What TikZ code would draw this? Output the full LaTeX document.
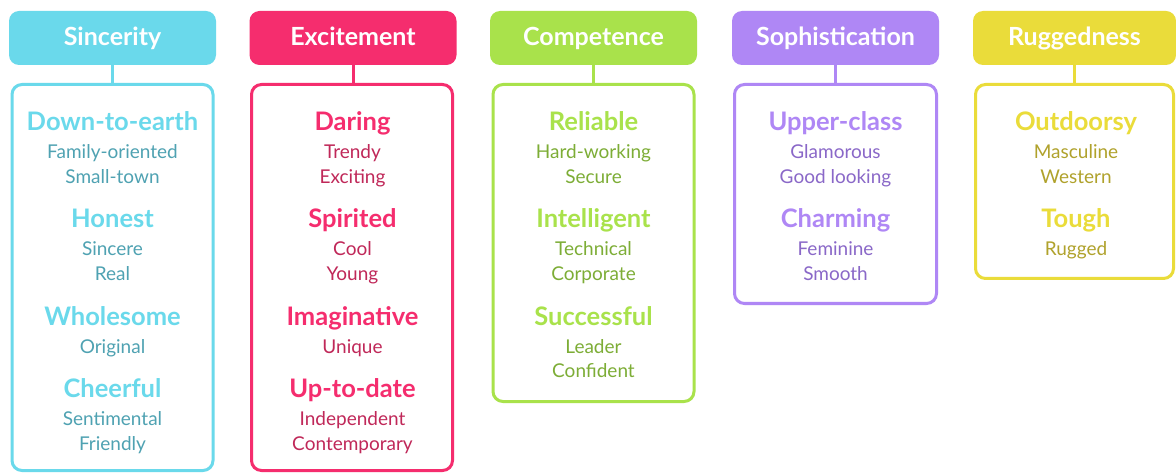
\documentclass[tikz,border=0pt]{standalone}
\usepackage{fontspec}
\setmainfont{Lato}
\definecolor{caA}{HTML}{6AD9EB}\definecolor{caB}{HTML}{4FA2B2}
\definecolor{cbA}{HTML}{F52D6E}\definecolor{cbB}{HTML}{C02859}
\definecolor{ccA}{HTML}{A9E24B}\definecolor{ccB}{HTML}{7DAD36}
\definecolor{cdA}{HTML}{AF87F5}\definecolor{cdB}{HTML}{8A68C8}
\definecolor{ceA}{HTML}{EADC3A}\definecolor{ceB}{HTML}{B0A22C}
\tikzset{
  hdr/.style={rectangle,rounded corners=10pt,inner sep=0pt,outer sep=0pt,minimum height=54pt,
     text height=20pt,text depth=4pt,
     text=white,font=\fontsize{25}{28}\selectfont\bfseries,anchor=north},
  bx/.style={rectangle,rounded corners=10pt,inner sep=0pt,outer sep=0pt,line width=3pt,fill=white,anchor=north},
  conn/.style={line width=3pt},
  ttl/.style={inner sep=0pt,anchor=base,font=\fontsize{25.5}{28}\selectfont\bfseries},
  sub/.style={inner sep=0pt,anchor=base,font=\fontsize{19}{22}\selectfont},
}
\begin{document}
\begin{tikzpicture}[x=1pt,y=-1pt]
\useasboundingbox[fill=white] (0,0) rectangle (1176,473);
% ---------- Sincerity
\node[hdr,fill=caA,minimum width=207pt] (h1) at (112.5,11) {Sincerity};
\node[bx,draw=caA,minimum width=201pt,minimum height=386pt] (b1) at (112.5,84.5) {};
\draw[conn,caA] (h1.south) -- (b1.north);
\node[ttl,text=caA] (t11) at (112.5,131) {Down-to-earth};
\node[sub,text=caB] (s111) at (112.5,159) {Family-oriented};
\node[sub,text=caB] (s112) at (112.5,183.5) {Small-town};
\node[ttl,text=caA] (t12) at (112.5,228) {Honest};
\node[sub,text=caB] (s121) at (112.5,256) {Sincere};
\node[sub,text=caB] (s122) at (112.5,280.5) {Real};
\node[ttl,text=caA] (t13) at (112.5,325) {Wholesome};
\node[sub,text=caB] (s131) at (112.5,353) {Original};
\node[ttl,text=caA] (t14) at (112.5,397.5) {Cheerful};
\node[sub,text=caB] (s141) at (112.5,425.5) {Sentimental};
\node[sub,text=caB] (s142) at (112.5,450) {Friendly};
% ---------- Excitement
\node[hdr,fill=cbA,minimum width=207pt] (h2) at (353,11) {Excitement};
\node[bx,draw=cbA,minimum width=201pt,minimum height=386pt] (b2) at (352,84.5) {};
\draw[conn,cbA] (h2.south) -- (h2.south |- b2.north);
\node[ttl,text=cbA] (t21) at (352.5,131) {Daring};
\node[sub,text=cbB] (s211) at (352.5,159) {Trendy};
\node[sub,text=cbB] (s212) at (352.5,183.5) {Exciting};
\node[ttl,text=cbA] (t22) at (352.5,228) {Spirited};
\node[sub,text=cbB] (s221) at (352.5,256) {Cool};
\node[sub,text=cbB] (s222) at (352.5,280.5) {Young};
\node[ttl,text=cbA] (t23) at (352.5,325) {Imaginative};
\node[sub,text=cbB] (s231) at (352.5,353) {Unique};
\node[ttl,text=cbA] (t24) at (352.5,397.5) {Up-to-date};
\node[sub,text=cbB] (s241) at (352.5,425.5) {Independent};
\node[sub,text=cbB] (s242) at (352.5,450) {Contemporary};
% ---------- Competence
\node[hdr,fill=ccA,minimum width=207pt] (h3) at (593.5,11) {Competence};
\node[bx,draw=ccA,minimum width=201pt,minimum height=317pt] (b3) at (593.5,84.5) {};
\draw[conn,ccA] (h3.south) -- (b3.north);
\node[ttl,text=ccA] (t31) at (593.5,131) {Reliable};
\node[sub,text=ccB] (s311) at (593.5,159) {Hard-working};
\node[sub,text=ccB] (s312) at (593.5,183.5) {Secure};
\node[ttl,text=ccA] (t32) at (593.5,228) {Intelligent};
\node[sub,text=ccB] (s321) at (593.5,256) {Technical};
\node[sub,text=ccB] (s322) at (593.5,280.5) {Corporate};
\node[ttl,text=ccA] (t33) at (593.5,325) {Successful};
\node[sub,text=ccB] (s331) at (593.5,353) {Leader};
\node[sub,text=ccB] (s332) at (593.5,377.5) {Confident};
% ---------- Sophistication
\node[hdr,fill=cdA,minimum width=207pt] (h4) at (835.5,11) {Sophistication};
\node[bx,draw=cdA,minimum width=202pt,minimum height=219pt] (b4) at (835.5,84.5) {};
\draw[conn,cdA] (h4.south) -- (b4.north);
\node[ttl,text=cdA] (t41) at (835.5,131) {Upper-class};
\node[sub,text=cdB] (s411) at (835.5,159) {Glamorous};
\node[sub,text=cdB] (s412) at (835.5,183.5) {Good looking};
\node[ttl,text=cdA] (t42) at (835.5,228) {Charming};
\node[sub,text=cdB] (s421) at (835.5,256) {Feminine};
\node[sub,text=cdB] (s422) at (835.5,280.5) {Smooth};
% ---------- Ruggedness
\node[hdr,fill=ceA,minimum width=203pt] (h5) at (1074.5,11) {Ruggedness};
\node[bx,draw=ceA,minimum width=198pt,minimum height=194pt] (b5) at (1074.5,84.5) {};
\draw[conn,ceA] (h5.south) -- (b5.north);
\node[ttl,text=ceA] (t51) at (1076,131) {Outdoorsy};
\node[sub,text=ceB] (s511) at (1076,159) {Masculine};
\node[sub,text=ceB] (s512) at (1076,183.5) {Western};
\node[ttl,text=ceA] (t52) at (1076,228) {Tough};
\node[sub,text=ceB] (s521) at (1076,256) {Rugged};
\end{tikzpicture}
\end{document}
